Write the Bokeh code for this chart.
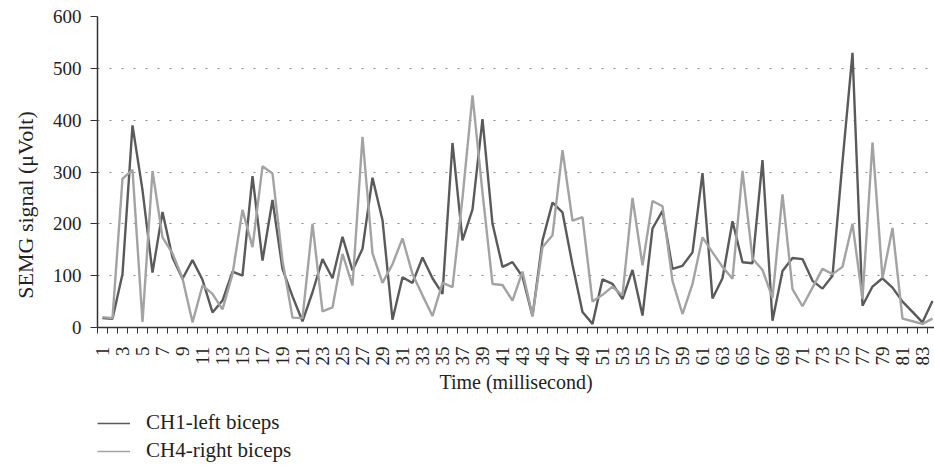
import math
from bokeh.plotting import figure
from bokeh.layouts import column
from bokeh.models import (Range1d, FixedTicker, Legend, LegendItem)
from bokeh.embed import file_html
from bokeh.resources import INLINE

time_ms = list(range(1, 85))

ch1_left = [18, 17, 103, 390, 265, 106, 223, 135, 94, 130,
            92, 29, 52, 108, 100, 292, 129, 246, 113, 60,
            12, 68, 132, 95, 175, 110, 152, 289, 207, 15,
            97, 86, 135, 95, 65, 356, 168, 228, 402, 200,
            117, 126, 98, 22, 168, 241, 222, 121, 30, 7,
            93, 84, 55, 111, 23, 191, 225, 113, 119, 145,
            298, 56, 95, 205, 126, 124, 323, 13, 109, 134,
            132, 90, 75, 100, 320, 530, 42, 79, 95, 77,
            50, 30, 10, 51]

ch4_right = [20, 18, 287, 304, 11, 302, 174, 143, 95, 10,
             81, 65, 35, 103, 227, 155, 311, 297, 129, 19,
             18, 200, 31, 39, 142, 81, 368, 143, 86, 122,
             172, 103, 62, 22, 86, 78, 250, 448, 260, 84,
             82, 52, 108, 22, 155, 178, 342, 206, 213, 50,
             63, 79, 62, 250, 120, 244, 234, 90, 26, 84,
             174, 145, 117, 94, 302, 133, 111, 57, 257, 74,
             41, 77, 113, 103, 117, 200, 55, 357, 95, 192,
             17, 12, 7, 17]

series_names = ["CH1-left biceps", "CH4-right biceps"]
x_tick_labels = [str(t) for t in time_ms if t % 2 == 1]
y_ticks = [0, 100, 200, 300, 400, 500, 600]

FONT = "Liberation Serif"
DARK = "#5a5a5a"
LIGHT = "#a3a3a3"
TXT = "#222222"

p = figure(frame_width=837, frame_height=311,
           x_range=Range1d(0.5, 84.2), y_range=Range1d(0, 600),
           output_backend="svg", toolbar_location=None,
           min_border_left=97, min_border_right=0, min_border_top=16,
           min_border_bottom=73)
p.outline_line_color = None
p.background_fill_color = "white"

p.line(time_ms, ch1_left, line_color=DARK, line_width=2.4)
p.line(time_ms, ch4_right, line_color=LIGHT, line_width=2.4)

# x axis: labels at odd categories, tick marks between categories
xa = p.xaxis[0]
xa.ticker = FixedTicker(ticks=[int(s) for s in x_tick_labels],
                        minor_ticks=[t - 0.5 for t in time_ms] + [84.5])
xa.major_tick_out = 0
xa.major_tick_in = 0
xa.minor_tick_out = 6
xa.minor_tick_in = 0
xa.minor_tick_line_color = "#333333"
xa.major_label_orientation = math.pi / 2
xa.major_label_text_font = FONT
xa.major_label_text_font_size = "19px"
xa.major_label_text_color = TXT
xa.major_label_standoff = 13
xa.axis_label = "Time (millisecond)"
xa.axis_label_text_font = FONT
xa.axis_label_text_font_style = "normal"
xa.axis_label_text_font_size = "20px"
xa.axis_label_text_color = TXT
xa.axis_label_standoff = 2
xa.axis_line_color = "#333333"
xa.axis_line_width = 1.5

ya = p.yaxis[0]
ya.ticker = FixedTicker(ticks=y_ticks)
ya.major_tick_out = 7
ya.major_tick_in = 0
ya.minor_tick_out = 0
ya.minor_tick_in = 0
ya.major_tick_line_color = "#333333"
ya.major_label_text_font = FONT
ya.major_label_text_font_size = "19px"
ya.major_label_text_color = TXT
ya.major_label_standoff = 9
# trailing no-break spaces push the title a little lower, as in the reference
ya.axis_label = "SEMG signal (\u03bcVolt)" + "\u00a0" * 12
ya.axis_label_text_font = FONT
ya.axis_label_text_font_style = "normal"
ya.axis_label_text_font_size = "22px"
ya.axis_label_text_color = TXT
ya.axis_label_standoff = 12
ya.axis_line_color = "#333333"
ya.axis_line_width = 1.5

p.xgrid.visible = False
p.ygrid.ticker = FixedTicker(ticks=y_ticks[1:])
p.ygrid.grid_line_color = "#8a8a8a"
p.ygrid.grid_line_dash = "2 10"
p.ygrid.grid_line_width = 1.2

# legend in its own strip below the chart (series lie outside its view)
p2 = figure(frame_width=837, frame_height=56,
            x_range=Range1d(0, 1), y_range=Range1d(-2, -1),
            x_axis_type=None, y_axis_type=None,
            output_backend="svg", toolbar_location=None,
            min_border_left=97, min_border_right=0, min_border_top=10,
            min_border_bottom=0)
p2.outline_line_color = None
p2.grid.visible = False
l1 = p2.line(time_ms, ch1_left, line_color=DARK, line_width=1.3)
l2 = p2.line(time_ms, ch4_right, line_color=LIGHT, line_width=1.3)

legend = Legend(items=[LegendItem(label=series_names[0], renderers=[l1]),
                       LegendItem(label=series_names[1], renderers=[l2])],
                location="top_left", orientation="vertical")
legend.label_text_font = FONT
legend.label_text_font_size = "21px"
legend.label_text_color = TXT
legend.glyph_width = 33
legend.glyph_height = 20
legend.label_height = 20
legend.label_standoff = 16
legend.spacing = 3
legend.padding = 0
legend.margin = 0
legend.border_line_color = None
legend.background_fill_alpha = 0
p2.add_layout(legend, "center")

open("out.html", "w").write(file_html(column(p, p2), INLINE))
